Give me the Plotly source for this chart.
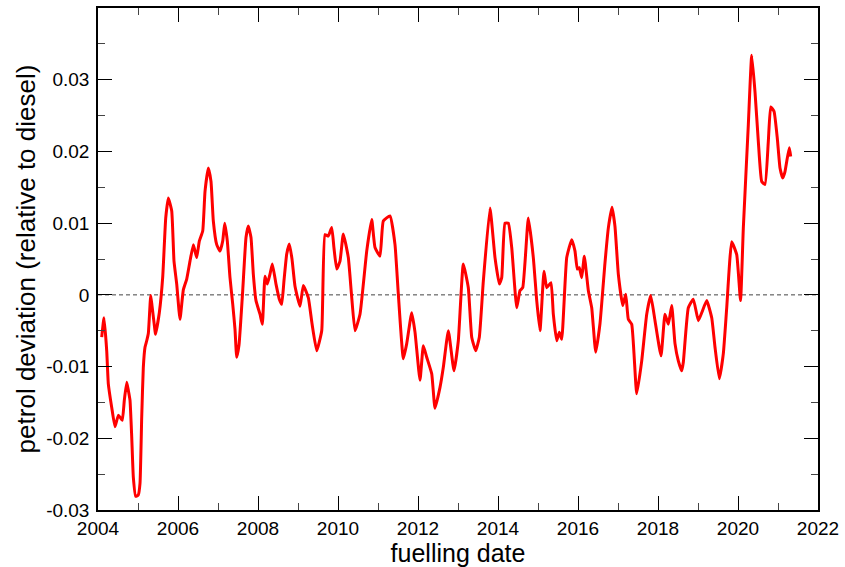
import plotly.graph_objects as go

# fuelling date (decimal year) and petrol deviation relative to diesel
dates = [
    2004.093, 2004.150, 2004.218, 2004.258, 2004.343, 2004.425, 2004.508, 2004.558,
    2004.608, 2004.658, 2004.718, 2004.758, 2004.800, 2004.843, 2004.883, 2004.943,
    2005.008, 2005.050, 2005.093, 2005.133, 2005.175, 2005.218, 2005.258, 2005.318,
    2005.350, 2005.425, 2005.438, 2005.533, 2005.618, 2005.693, 2005.758, 2005.843,
    2005.900, 2005.968, 2006.050, 2006.133, 2006.218, 2006.300, 2006.383, 2006.425,
    2006.468, 2006.533, 2006.618, 2006.675, 2006.758, 2006.825, 2006.883, 2006.968,
    2007.050, 2007.118, 2007.168, 2007.233, 2007.300, 2007.368, 2007.425, 2007.468,
    2007.525, 2007.618, 2007.700, 2007.758, 2007.825, 2007.883, 2007.950, 2008.050,
    2008.108, 2008.175, 2008.233, 2008.300, 2008.358, 2008.450, 2008.533, 2008.593,
    2008.650, 2008.718, 2008.783, 2008.850, 2008.925, 2009.050, 2009.133, 2009.258,
    2009.350, 2009.468, 2009.593, 2009.675, 2009.758, 2009.843, 2009.900, 2009.968,
    2010.050, 2010.133, 2010.258, 2010.338, 2010.425, 2010.550, 2010.718, 2010.843,
    2010.925, 2011.050, 2011.133, 2011.300, 2011.425, 2011.508, 2011.633, 2011.718,
    2011.843, 2011.925, 2012.050, 2012.133, 2012.218, 2012.343, 2012.425, 2012.550,
    2012.633, 2012.758, 2012.900, 2013.008, 2013.133, 2013.258, 2013.343, 2013.443,
    2013.533, 2013.633, 2013.800, 2013.925, 2014.033, 2014.093, 2014.175, 2014.258,
    2014.343, 2014.468, 2014.550, 2014.618, 2014.758, 2014.883, 2014.968, 2015.050,
    2015.150, 2015.218, 2015.325, 2015.383, 2015.468, 2015.533, 2015.593, 2015.718,
    2015.843, 2015.925, 2015.983, 2016.033, 2016.093, 2016.158, 2016.258, 2016.343,
    2016.443, 2016.550, 2016.675, 2016.758, 2016.850, 2016.925, 2017.008, 2017.118,
    2017.193, 2017.258, 2017.343, 2017.468, 2017.593, 2017.718, 2017.818, 2017.925,
    2018.075, 2018.175, 2018.258, 2018.343, 2018.425, 2018.508, 2018.593, 2018.633,
    2018.758, 2018.883, 2019.008, 2019.093, 2019.218, 2019.343, 2019.425, 2019.533,
    2019.633, 2019.718, 2019.843, 2019.968, 2020.063, 2020.133, 2020.258, 2020.343,
    2020.425, 2020.508, 2020.593, 2020.675, 2020.758, 2020.818, 2020.900, 2020.983,
    2021.050, 2021.118, 2021.175, 2021.218, 2021.283, 2021.318,
]
deviation = [
    -0.0059, -0.0032, -0.0078, -0.0124, -0.0157, -0.0184, -0.0168, -0.0171,
    -0.0175, -0.0147, -0.0122, -0.0133, -0.0147, -0.0198, -0.0254, -0.0281,
    -0.0279, -0.0263, -0.0170, -0.0101, -0.0073, -0.0064, -0.0054, -0.0001,
    -0.0015, -0.0050, -0.0055, -0.0025, 0.0025, 0.0107, 0.0135, 0.0117,
    0.0047, 0.0015, -0.0034, 0.0007, 0.0022, 0.0047, 0.0070, 0.0061,
    0.0052, 0.0075, 0.0089, 0.0144, 0.0177, 0.0158, 0.0103, 0.0070,
    0.0061, 0.0075, 0.0100, 0.0075, 0.0024, -0.0013, -0.0048, -0.0087,
    -0.0070, 0.0006, 0.0080, 0.0096, 0.0080, 0.0029, -0.0008, -0.0027,
    -0.0041, 0.0026, 0.0015, 0.0029, 0.0043, 0.0015, -0.0006, -0.0013,
    0.0020, 0.0057, 0.0071, 0.0050, 0.0012, -0.0016, 0.0013, -0.0004,
    -0.0040, -0.0078, -0.0050, 0.0084, 0.0082, 0.0094, 0.0065, 0.0036,
    0.0047, 0.0085, 0.0052, 0.0000, -0.0050, -0.0027, 0.0061, 0.0105,
    0.0066, 0.0054, 0.0103, 0.0110, 0.0070, 0.0001, -0.0089, -0.0068,
    -0.0025, -0.0052, -0.0119, -0.0071, -0.0087, -0.0110, -0.0158, -0.0129,
    -0.0101, -0.0050, -0.0106, -0.0064, 0.0043, 0.0010, -0.0059, -0.0078,
    -0.0059, 0.0019, 0.0121, 0.0052, 0.0015, 0.0024, 0.0100, 0.0100,
    0.0066, -0.0018, 0.0006, 0.0010, 0.0107, 0.0052, -0.0008, -0.0050,
    0.0033, 0.0010, 0.0017, -0.0027, -0.0064, -0.0052, -0.0062, 0.0052,
    0.0077, 0.0061, 0.0036, 0.0038, 0.0024, 0.0054, 0.0006, -0.0018,
    -0.0080, -0.0040, 0.0045, 0.0093, 0.0122, 0.0095, 0.0029, -0.0015,
    0.0001, -0.0034, -0.0041, -0.0138, -0.0092, -0.0027, -0.0001, -0.0036,
    -0.0085, -0.0027, -0.0041, -0.0015, -0.0068, -0.0092, -0.0106, -0.0094,
    -0.0018, -0.0006, -0.0036, -0.0025, -0.0008, -0.0032, -0.0073, -0.0117,
    -0.0082, -0.0018, 0.0074, 0.0056, -0.0008, 0.0093, 0.0237, 0.0334,
    0.0283, 0.0214, 0.0158, 0.0154, 0.0214, 0.0262, 0.0256, 0.0218,
    0.0177, 0.0163, 0.0172, 0.0186, 0.0205, 0.0193,
]

x_ticks = [2004, 2006, 2008, 2010, 2012, 2014, 2016, 2018, 2020, 2022]
y_ticks = [-0.03, -0.02, -0.01, 0, 0.01, 0.02, 0.03]
y_tick_text = ["-0.03", "-0.02", "-0.01", "0", "0.01", "0.02", "0.03"]

FONT = "Liberation Sans, Arial, Helvetica, sans-serif"

fig = go.Figure()
fig.add_trace(go.Scatter(
    x=dates, y=deviation, mode="lines",
    line=dict(color="#ff0000", width=3, shape="spline", smoothing=0.4),
    showlegend=False, hoverinfo="skip",
))

# dashed reference line at zero deviation
fig.add_shape(type="line", xref="paper", x0=0, x1=1, yref="y", y0=0, y1=0,
              line=dict(color="#444444", width=1, dash="4px,3px"), layer="below")

axis_common = dict(
    showgrid=False, zeroline=False, showline=True, linecolor="black", linewidth=1.5,
    mirror="allticks", ticks="inside", ticklen=14, tickwidth=1, tickcolor="black",
    tickfont=dict(family=FONT, size=19, color="black"),
)

fig.update_xaxes(
    range=[2004, 2022], tickvals=x_ticks, ticktext=[str(v) for v in x_ticks],
    minor=dict(dtick=1, tick0=2004, ticks="inside", ticklen=7, tickcolor="#444444"),
    title=dict(text="fuelling date", font=dict(family=FONT, size=25, color="black"),
               standoff=0),
    **axis_common,
)
fig.update_yaxes(
    range=[-0.03, 0.04], tickvals=y_ticks, ticktext=y_tick_text,
    minor=dict(dtick=0.005, tick0=0, ticks="inside", ticklen=7, tickcolor="#444444"),
    ticklabelstandoff=3,
    title=dict(text="petrol deviation (relative to diesel)",
               font=dict(family=FONT, size=26, color="black"), standoff=3),
    **axis_common,
)

fig.update_layout(
    width=845, height=567,
    margin=dict(l=98, r=27, t=6, b=57),
    paper_bgcolor="white", plot_bgcolor="white",
)

fig.write_html("out.html")
